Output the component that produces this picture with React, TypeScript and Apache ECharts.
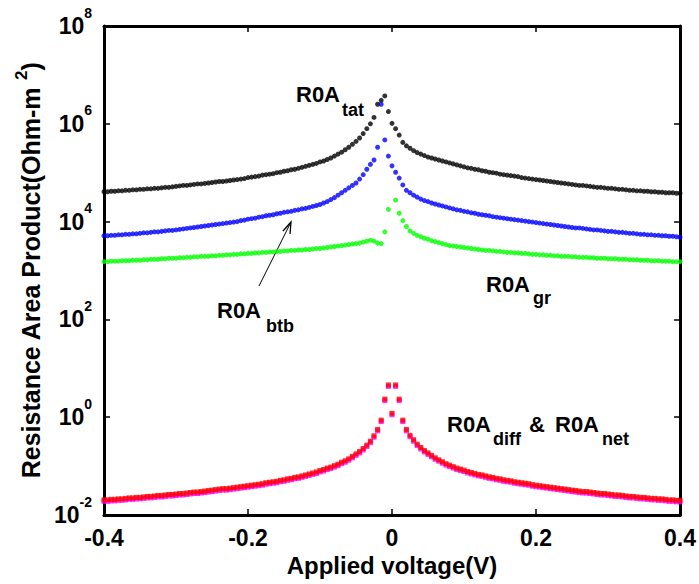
import React, { useEffect, useRef } from "react";
import * as echarts from "echarts";

// Applied-voltage sweep: -0.4 V to 0.4 V in 5 mV steps (161 samples)
const V_MIN = -0.4;
const V_STEP = 0.005;
const N_POINTS = 161;
const voltages: number[] = Array.from({ length: N_POINTS }, (_, i) => Math.round((V_MIN + i * V_STEP) * 1000) / 1000);

// Values, stored as log10(R0A) in Ohm-m^2
const tatLog10: (number | null)[] = [
  4.61, 4.61, 4.62, 4.62, 4.63, 4.63, 4.64, 4.64, 4.65, 4.65, 4.66, 4.66, 4.67, 4.67, 4.68, 4.68, 4.69, 4.70, 4.70, 4.71, 4.72,
  4.73, 4.74, 4.74, 4.75, 4.76, 4.77, 4.77, 4.78, 4.79, 4.80, 4.81, 4.82, 4.82, 4.83, 4.84, 4.85, 4.86, 4.87, 4.88, 4.90,
  4.91, 4.92, 4.93, 4.95, 4.96, 4.97, 4.98, 5.00, 5.01, 5.03,
  5.04, 5.06, 5.07, 5.09, 5.11, 5.13, 5.15, 5.17, 5.19, 5.22,
  5.24, 5.27, 5.30, 5.34, 5.38, 5.42, 5.47, 5.52, 5.58, 5.64,
  5.71, 5.80, 5.90, 6.00, 6.13, 6.40, 6.48, 6.57, 6.25, 6.01,
  5.90, 5.77, 5.62, 5.55, 5.50, 5.45, 5.41, 5.38, 5.35, 5.32,
  5.30, 5.28, 5.26, 5.24, 5.22, 5.20, 5.18, 5.16, 5.14, 5.12,
  5.10, 5.09, 5.07, 5.06, 5.04, 5.03, 5.01, 5.00, 4.99, 4.97,
  4.96, 4.95, 4.94, 4.93, 4.92, 4.90, 4.89, 4.88, 4.87, 4.86,
  4.85, 4.84, 4.83, 4.82, 4.81, 4.80, 4.79, 4.78, 4.77, 4.76,
  4.75, 4.74, 4.74, 4.73, 4.72, 4.71, 4.70, 4.70, 4.69, 4.68,
  4.68, 4.67, 4.66, 4.66, 4.65, 4.64, 4.64, 4.63, 4.63, 4.62,
  4.62, 4.61, 4.61, 4.60, 4.60, 4.59, 4.59, 4.59, 4.58, 4.58,
];

const btbLog10: (number | null)[] = [
  3.71, 3.71, 3.72, 3.72, 3.73, 3.73, 3.74, 3.74, 3.75, 3.75, 3.76, 3.77, 3.77, 3.78, 3.79, 3.79, 3.80, 3.81, 3.82, 3.82, 3.83,
  3.84, 3.85, 3.86, 3.87, 3.88, 3.89, 3.90, 3.91, 3.92, 3.93, 3.94, 3.95, 3.96, 3.97, 3.98, 3.99, 4.00, 4.02, 4.03, 4.05,
  4.06, 4.07, 4.09, 4.10, 4.12, 4.13, 4.14, 4.16, 4.17, 4.19,
  4.20, 4.21, 4.23, 4.24, 4.26, 4.27, 4.29, 4.31, 4.33, 4.35,
  4.38, 4.41, 4.45, 4.49, 4.54, 4.59, 4.64, 4.69, 4.74, 4.79,
  4.87, 4.96, 5.07, 5.17, 5.26, 5.52, 6.40, 5.67, 5.34, 5.14,
  5.01, 4.89, 4.75, 4.64, 4.59, 4.54, 4.50, 4.46, 4.43, 4.41,
  4.38, 4.36, 4.34, 4.32, 4.30, 4.28, 4.26, 4.24, 4.23, 4.21,
  4.20, 4.18, 4.17, 4.15, 4.14, 4.13, 4.12, 4.10, 4.09, 4.08,
  4.07, 4.06, 4.05, 4.04, 4.03, 4.02, 4.01, 4.00, 3.99, 3.98,
  3.97, 3.96, 3.95, 3.94, 3.93, 3.92, 3.91, 3.90, 3.89, 3.88,
  3.87, 3.87, 3.86, 3.85, 3.84, 3.83, 3.83, 3.82, 3.81, 3.80,
  3.80, 3.79, 3.78, 3.78, 3.77, 3.76, 3.76, 3.75, 3.74, 3.74,
  3.73, 3.73, 3.72, 3.72, 3.71, 3.71, 3.70, 3.70, 3.69, 3.68,
];

const grLog10: (number | null)[] = [
  3.18, 3.18, 3.19, 3.19, 3.19, 3.20, 3.20, 3.20, 3.21, 3.21, 3.21, 3.22, 3.22, 3.23, 3.23, 3.23, 3.24, 3.24, 3.25, 3.25, 3.25,
  3.26, 3.26, 3.27, 3.27, 3.28, 3.28, 3.29, 3.29, 3.29, 3.30, 3.30, 3.31, 3.31, 3.32, 3.32, 3.33, 3.33, 3.34, 3.34, 3.35,
  3.35, 3.36, 3.36, 3.37, 3.37, 3.38, 3.38, 3.39, 3.39, 3.40,
  3.40, 3.41, 3.41, 3.42, 3.42, 3.43, 3.43, 3.44, 3.45, 3.45,
  3.46, 3.47, 3.48, 3.49, 3.50, 3.51, 3.52, 3.53, 3.54, 3.55,
  3.56, 3.58, 3.60, 3.62, 3.60, 3.56, 3.55, 3.79, 4.25, null,
  4.44, 4.17, 4.02, 3.90, 3.81, 3.76, 3.72, 3.69, 3.66, 3.64,
  3.61, 3.59, 3.57, 3.55, 3.53, 3.51, 3.50, 3.49, 3.48, 3.47,
  3.46, 3.45, 3.44, 3.43, 3.42, 3.41, 3.41, 3.40, 3.39, 3.39,
  3.38, 3.37, 3.37, 3.36, 3.36, 3.35, 3.35, 3.34, 3.33, 3.33,
  3.32, 3.32, 3.31, 3.31, 3.30, 3.30, 3.29, 3.29, 3.29, 3.28,
  3.28, 3.27, 3.27, 3.27, 3.26, 3.26, 3.25, 3.25, 3.25, 3.24,
  3.24, 3.24, 3.23, 3.23, 3.23, 3.22, 3.22, 3.22, 3.21, 3.21,
  3.21, 3.20, 3.20, 3.20, 3.19, 3.19, 3.19, 3.18, 3.18, 3.18,
];

const diffLog10: (number | null)[] = [
  -1.69, -1.69, -1.68, -1.68, -1.67, -1.67, -1.66, -1.65, -1.65, -1.64,
  -1.64, -1.63, -1.62, -1.62, -1.61, -1.60, -1.60, -1.59, -1.58, -1.58,
  -1.57, -1.56, -1.56, -1.55, -1.54, -1.53, -1.53, -1.52, -1.51, -1.50,
  -1.49, -1.48, -1.47, -1.46, -1.46, -1.45, -1.44, -1.43, -1.42, -1.41,
  -1.40, -1.39, -1.38, -1.37, -1.36, -1.34, -1.33, -1.32, -1.31, -1.29,
  -1.28, -1.26, -1.25, -1.23, -1.22, -1.20, -1.18, -1.16, -1.14, -1.12,
  -1.09, -1.07, -1.04, -1.02, -0.99, -0.96, -0.92, -0.89, -0.85, -0.80,
  -0.75, -0.70, -0.64, -0.57, -0.49, -0.38, -0.25, -0.06, 0.37, 0.66,
  0.08,
  0.66, 0.37, -0.06, -0.25, -0.37, -0.46, -0.55, -0.62, -0.68, -0.73,
  -0.78, -0.83, -0.87, -0.91, -0.95, -0.98, -1.01, -1.04, -1.06, -1.08,
  -1.11, -1.13, -1.15, -1.17, -1.18, -1.20, -1.22, -1.23, -1.25, -1.26,
  -1.28, -1.29, -1.30, -1.32, -1.33, -1.34, -1.35, -1.36, -1.38, -1.39,
  -1.40, -1.41, -1.42, -1.43, -1.44, -1.45, -1.46, -1.47, -1.48, -1.49,
  -1.50, -1.51, -1.52, -1.52, -1.53, -1.54, -1.55, -1.56, -1.56, -1.57,
  -1.58, -1.59, -1.59, -1.60, -1.61, -1.62, -1.62, -1.63, -1.64, -1.64,
  -1.65, -1.66, -1.66, -1.67, -1.67, -1.68, -1.69, -1.69, -1.70, -1.70,
];

// R0A_net coincides with R0A_diff at this scale (drawn underneath in magenta)
const netLog10: (number | null)[] = diffLog10;

const xTicks = [-0.4, -0.2, 0, 0.2, 0.4];

const FONT = '"Liberation Sans", Arial, Helvetica, sans-serif';

function toPoints(logs: (number | null)[]): number[][] {
  const out: number[][] = [];
  logs.forEach((e, i) => {
    if (e !== null && e !== undefined) out.push([voltages[i], Math.pow(10, e)]);
  });
  return out;
}

function txt(x: number, y: number, text: string, size: number) {
  return {
    type: "text",
    x,
    y,
    style: {
      text,
      fill: "#000",
      font: `bold ${size}px ${FONT}`,
      textAlign: "left",
      textVerticalAlign: "middle",
      align: "left",
      verticalAlign: "middle",
    },
  };
}

function label(x: number, y: number, main: string, sub: string, subX: number, subY: number) {
  return [txt(x, y, main, 22), txt(subX, subY, sub, 18)];
}

export default function App() {
  const ref = useRef<HTMLDivElement>(null);

  useEffect(() => {
    document.body.style.margin = "0";
    if (!ref.current) return;
    const chart = echarts.init(ref.current, undefined, { renderer: "svg" });

    const axisCommon = {
      axisLine: { show: true, onZero: false, lineStyle: { color: "#000", width: 3 } },
      axisTick: { show: true, inside: true, length: 6, lineStyle: { color: "#000", width: 1.5 } },
      splitLine: { show: false },
    };

    const yLabelRich = {
      b: { fontSize: 23, fontWeight: "bold", fontFamily: FONT, color: "#000", lineHeight: 41 },
      s: { fontSize: 14, fontWeight: "bold", fontFamily: FONT, color: "#000", lineHeight: 14, verticalAlign: "top" },
    };

    const option: any = {
      animation: false,
      backgroundColor: "#fff",
      grid: { left: 104, right: 17, top: 26, bottom: 69, containLabel: false },
      xAxis: [
        {
          type: "value",
          position: "bottom",
          min: xTicks[0],
          max: xTicks[xTicks.length - 1],
          interval: 0.2,
          ...axisCommon,
          axisLabel: {
            margin: 11,
            fontSize: 23,
            fontWeight: "bold",
            fontFamily: FONT,
            color: "#000",
            formatter: (v: number) => String(Math.round(v * 10) / 10),
          },
          name: "Applied voltage(V)",
          nameLocation: "middle",
          nameGap: 34,
          nameTextStyle: { fontSize: 24, fontWeight: "bold", fontFamily: FONT, color: "#000" },
        },
        {
          type: "value",
          position: "top",
          min: xTicks[0],
          max: xTicks[xTicks.length - 1],
          interval: 0.2,
          ...axisCommon,
          axisLabel: { show: false },
        },
      ],
      yAxis: [
        {
          type: "log",
          logBase: 100,
          position: "left",
          min: 0.01,
          max: 1e8,
          ...axisCommon,
          axisLabel: {
            margin: 12,
            formatter: (v: number) => `{b|10}{s|${Math.round(Math.log10(v))}}`,
            rich: yLabelRich,
          },
          name: "{t|Resistance Area Product(Ohm-m }{s|2}{t|)}",
          nameLocation: "middle",
          nameRotate: 90,
          nameGap: 52,
          nameTextStyle: {
            fontSize: 25,
            fontWeight: "bold",
            fontFamily: FONT,
            color: "#000",
            rich: {
              t: { fontSize: 25, fontWeight: "bold", fontFamily: FONT, color: "#000", lineHeight: 36 },
              s: { fontSize: 17, fontWeight: "bold", fontFamily: FONT, color: "#000", lineHeight: 17, verticalAlign: "top" },
            },
          },
        },
        {
          type: "log",
          logBase: 100,
          position: "right",
          min: 0.01,
          max: 1e8,
          ...axisCommon,
          axisLabel: { show: false },
        },
      ],
      series: [
        {
          name: "R0A_tat",
          type: "scatter",
          data: toPoints(tatLog10),
          symbol: "circle",
          symbolSize: 5,
          itemStyle: { color: "#000000" },
        },
        {
          name: "R0A_btb",
          type: "scatter",
          data: toPoints(btbLog10),
          symbol: "circle",
          symbolSize: 5,
          itemStyle: { color: "#0000ff" },
        },
        {
          name: "R0A_gr",
          type: "scatter",
          data: toPoints(grLog10),
          symbol: "circle",
          symbolSize: 5,
          itemStyle: { color: "#00ff00" },
        },
        {
          name: "R0A_net",
          type: "scatter",
          data: toPoints(netLog10),
          symbol: "rect",
          symbolSize: 5,
          symbolOffset: [0, 1.5],
          itemStyle: { color: "#ff00ff" },
        },
        {
          name: "R0A_diff",
          type: "scatter",
          data: toPoints(diffLog10),
          symbol: "rect",
          symbolSize: 5,
          itemStyle: { color: "#ff0000" },
        },
      ],
      graphic: [
        ...label(296, 94, "R0A", "tat", 342, 110),
        ...label(217, 310, "R0A", "btb", 266, 326),
        ...label(486, 284, "R0A", "gr", 533, 298),
        ...label(447, 424, "R0A", "diff", 493, 439),
        txt(529, 424, "&", 22),
        ...label(555, 424, "R0A", "net", 602, 439),
        {
          type: "line",
          shape: { x1: 259, y1: 286, x2: 291, y2: 222 },
          style: { stroke: "#000", lineWidth: 1 },
        },
        {
          type: "polyline",
          shape: { points: [[283, 231], [291, 222], [290, 234]] },
          style: { stroke: "#000", lineWidth: 1.3, fill: null },
        },
      ],
    };

    chart.setOption(option);
    return () => chart.dispose();
  }, []);

  return (
    <div
      ref={ref}
      style={{ position: "absolute", left: 0, top: 0, width: 699, height: 584, background: "#fff" }}
    />
  );
}
